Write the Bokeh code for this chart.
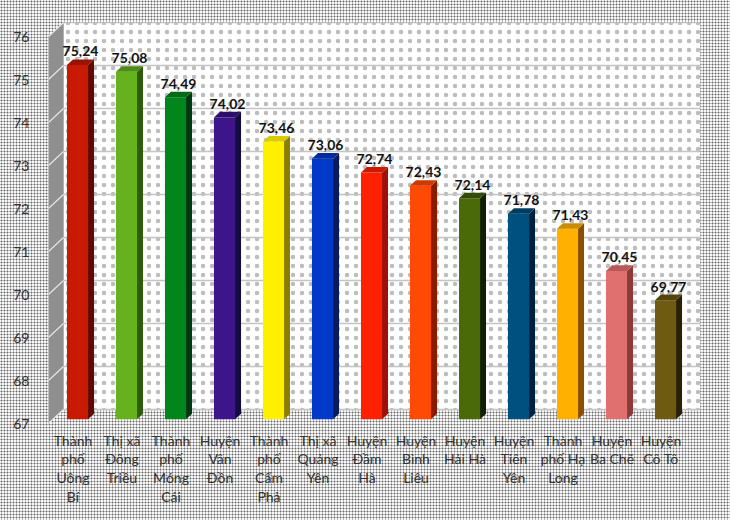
from bokeh.plotting import figure
from bokeh.models import ColumnDataSource, Range1d, FixedTicker, GlobalInlineStyleSheet
from bokeh.core.properties import value
from bokeh.embed import file_html
from bokeh.resources import INLINE

# data
categories = ["Thành\nphố\nUông\nBí", "Thị xã\nĐông\nTriều", "Thành\nphố\nMóng\nCái",
              "Huyện\nVân\nĐồn", "Thành\nphố\nCẩm\nPhả", "Thị xã\nQuảng\nYên",
              "Huyện\nĐầm\nHà", "Huyện\nBình\nLiêu", "Huyện\nHải Hà", "Huyện\nTiên\nYên",
              "Thành\nphố Hạ\nLong", "Huyện\nBa Chẽ", "Huyện\nCô Tô"]
values = [75.24, 75.08, 74.49, 74.02, 73.46, 73.06, 72.74, 72.43, 72.14, 71.78, 71.43, 70.45, 69.77]
y_ticks = [67, 68, 69, 70, 71, 72, 73, 74, 75, 76]

# bar colours: front face, side face, top face
front_colors = ["#c81a00", "#66b21e", "#00861a", "#3e148a", "#fff000", "#0038c8", "#ff2000",
                "#ff4a05", "#4a6a0a", "#00507f", "#ffb000", "#e07070", "#6e5a10"]
side_colors = ["#5e0a05", "#2e5c0c", "#003812", "#140c40", "#8a7f00", "#0a1a5c", "#a01008",
               "#8a1a00", "#102000", "#00203f", "#8a5000", "#8a3a3a", "#2a2008"]
top_colors = ["#9a1200", "#4c8c14", "#006a14", "#2c0e6a", "#d8cc00", "#002c9c", "#cc1a00",
              "#cc3a04", "#344c06", "#003c60", "#cc8c00", "#b85858", "#54440c"]

ymin, ymax = y_ticks[0], y_ticks[-1]
n = len(values)
dx, dy = 0.306, 0.326      # depth shift of the 3d box (data units)
f0, f1 = 0.3, 0.7          # bar front / back depth
hw = 0.215                 # half width of bar front face

xs = list(range(1, n + 1))
front_xs, front_ys, side_xs, side_ys, top_xs, top_ys = [], [], [], [], [], []
lab_x, lab_y, lab_t = [], [], []
ddx, ddy = (f1 - f0) * dx, (f1 - f0) * dy
for x, v in zip(xs, values):
    xl, xr = x - hw + f0 * dx, x + hw + f0 * dx
    yb, yt = ymin + f0 * dy, v + f0 * dy
    front_xs.append([xl, xr, xr, xl]); front_ys.append([yb, yb, yt, yt])
    side_xs.append([xr, xr + ddx, xr + ddx, xr]); side_ys.append([yb, yb + ddy, yt + ddy, yt])
    top_xs.append([xl, xr, xr + ddx, xl + ddx]); top_ys.append([yt, yt, yt + ddy, yt + ddy])
    lab_x.append(x + f0 * dx + ddx / 2); lab_y.append(yt + ddy)
    lab_t.append(f"{v:.2f}".replace(".", ","))

x0, x1 = 0.5, n + 0.5

dots = ("background-color:#f6f6f6;"
        "background-image:radial-gradient(circle, #686868 0.8px, rgba(0,0,0,0) 1.15px);"
        "background-size:3px 3px;")

p = figure(width=730, height=520, x_range=Range1d(x0, x1 + dx), y_range=Range1d(ymin, ymax + dy),
           output_backend="svg", toolbar_location=None,
           min_border_left=48, min_border_right=30, min_border_top=22, min_border_bottom=97,
           border_fill_color=None, background_fill_color=None, outline_line_color=None)
p.stylesheets = [GlobalInlineStyleSheet(css="body{" + dots + "}")]
p.xgrid.visible = False
p.ygrid.visible = False

# back wall
p.quad(left=x0 + dx, right=x1 + dx, bottom=ymin + dy, top=ymax + dy, fill_color="white",
       line_color=None, hatch_pattern="dot", hatch_color="#bdbdbd", hatch_scale=9, hatch_weight=0.4)
# left wall
p.patch(x=[x0, x0, x0 + dx, x0 + dx], y=[ymin, ymax, ymax + dy, ymin + dy],
        fill_color="#8f8f8f", line_color="#b0b0b0", line_width=1)
# gridlines on the walls
p.segment(x0=[x0 + dx] * len(y_ticks), y0=[t + dy for t in y_ticks],
          x1=[x1 + dx] * len(y_ticks), y1=[t + dy for t in y_ticks],
          line_color="#c4c4c4", line_width=1.5)
p.segment(x0=[x0] * len(y_ticks), y0=y_ticks, x1=[x0 + dx] * len(y_ticks), y1=[t + dy for t in y_ticks],
          line_color="#e6e6e6", line_width=1.2)

# bars
p.patches(xs="xs", ys="ys", fill_color="c", line_color=None,
          source=ColumnDataSource(dict(xs=side_xs, ys=side_ys, c=side_colors)))
p.patches(xs="xs", ys="ys", fill_color="c", line_color=None,
          source=ColumnDataSource(dict(xs=front_xs, ys=front_ys, c=front_colors)))
p.patches(xs="xs", ys="ys", fill_color="c", line_color=None,
          source=ColumnDataSource(dict(xs=top_xs, ys=top_ys, c=top_colors)))

# value labels
p.text(x=lab_x, y=lab_y, text=lab_t, text_font=value("Lato"), text_font_style="bold",
       text_font_size="14px", text_color="#111111", text_align="center",
       text_baseline="bottom", y_offset=-3)

# axes
p.yaxis.ticker = FixedTicker(ticks=y_ticks)
p.xaxis.ticker = FixedTicker(ticks=xs)
p.xaxis.major_label_overrides = {x: c for x, c in zip(xs, categories)}
for ax in (p.xaxis, p.yaxis):
    ax.axis_line_color = None
    ax.major_tick_line_color = None
    ax.minor_tick_line_color = None
    ax.major_label_text_font = "Lato"
    ax.major_label_text_font_size = "14px"
    ax.major_label_text_color = "#333333"
p.xaxis.major_label_text_line_height = 1.1
p.xaxis.major_label_standoff = 2
p.yaxis.major_label_standoff = 13

open("out.html", "w").write(file_html(p, INLINE))
